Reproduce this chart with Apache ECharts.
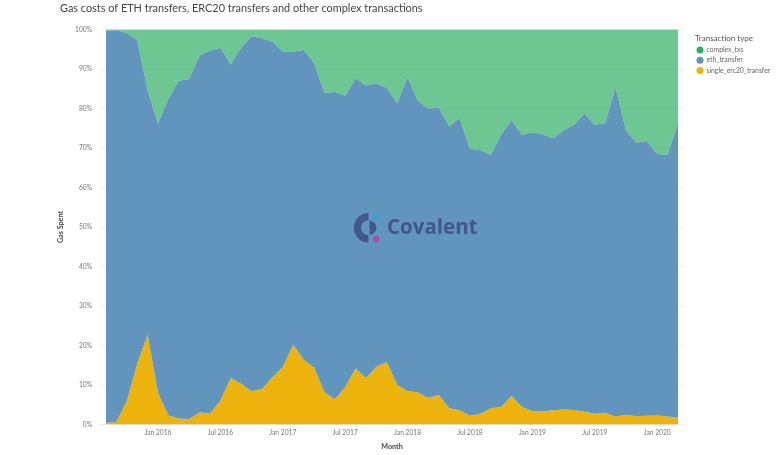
<!DOCTYPE html>
<html lang="en">
<head>
    <meta charset="UTF-8">
    <title>gas_costs_by_transaction_type</title>
    <script src="https://cdn.jsdelivr.net/npm/echarts@6/dist/echarts.min.js"></script>
    <style>
        html, body { margin: 0; padding: 0; background: #fff; }
    </style>
</head>

<body>
    <div id="mainChart" style="width: 777px; height: 455px;"></div>
    <script>
        const months = [
            'Aug 2015', 'Sep 2015', 'Oct 2015', 'Nov 2015', 'Dec 2015',
            'Jan 2016', 'Feb 2016', 'Mar 2016', 'Apr 2016', 'May 2016', 'Jun 2016',
            'Jul 2016', 'Aug 2016', 'Sep 2016', 'Oct 2016', 'Nov 2016', 'Dec 2016',
            'Jan 2017', 'Feb 2017', 'Mar 2017', 'Apr 2017', 'May 2017', 'Jun 2017',
            'Jul 2017', 'Aug 2017', 'Sep 2017', 'Oct 2017', 'Nov 2017', 'Dec 2017',
            'Jan 2018', 'Feb 2018', 'Mar 2018', 'Apr 2018', 'May 2018', 'Jun 2018',
            'Jul 2018', 'Aug 2018', 'Sep 2018', 'Oct 2018', 'Nov 2018', 'Dec 2018',
            'Jan 2019', 'Feb 2019', 'Mar 2019', 'Apr 2019', 'May 2019', 'Jun 2019',
            'Jul 2019', 'Aug 2019', 'Sep 2019', 'Oct 2019', 'Nov 2019', 'Dec 2019',
            'Jan 2020', 'Feb 2020', 'Mar 2020'
        ]
        const singleErc20 = [
            0.4, 0.7, 5.9, 15.4, 22.8, 8.0, 2.3, 1.5, 1.4, 3.1, 2.7, 6.1, 11.8, 10.3,
            8.4, 9.0, 11.9, 14.6, 20.2, 16.4, 14.4, 8.2, 6.3, 9.5, 14.2, 11.8, 14.6, 15.8,
            10.0, 8.5, 8.1, 6.7, 7.5, 4.1, 3.6, 2.2, 2.7, 4.1, 4.4, 7.3, 4.4, 3.4,
            3.3, 3.6, 3.8, 3.7, 3.2, 2.7, 3.0, 2.0, 2.5, 2.1, 2.2, 2.3, 2.0, 1.7
        ]
        const ethTransfer = [
            99.3, 99.1, 93.2, 81.9, 61.9, 68.2, 80.2, 85.5, 86.1, 90.3, 92.0, 89.3, 79.4, 85.1,
            89.9, 88.8, 85.0, 79.8, 74.2, 78.4, 77.2, 75.8, 77.9, 73.7, 73.4, 74.0, 71.7, 69.4,
            71.4, 79.4, 73.8, 73.3, 72.7, 71.5, 73.9, 67.6, 66.7, 64.1, 69.0, 69.8, 68.9, 70.6,
            70.1, 68.9, 70.7, 72.1, 75.5, 73.2, 73.3, 83.3, 71.9, 69.2, 69.6, 66.2, 66.2, 74.7
        ]
        const complexTxs = [
            0.3, 0.2, 0.9, 2.7, 15.3, 23.8, 17.5, 13.0, 12.5, 6.6, 5.3, 4.6, 8.8, 4.6,
            1.7, 2.2, 3.1, 5.6, 5.6, 5.2, 8.4, 16.0, 15.8, 16.8, 12.4, 14.2, 13.7, 14.8,
            18.6, 12.1, 18.1, 20.0, 19.8, 24.4, 22.5, 30.2, 30.6, 31.8, 26.6, 22.9, 26.7, 26.0,
            26.6, 27.5, 25.5, 24.2, 21.3, 24.1, 23.7, 14.7, 25.6, 28.7, 28.2, 31.5, 31.8, 23.6
        ]

        const font = 'Lato'

        function areaSeries(name, data, color, areaColor) {
            return {
                type: 'line',
                name: name,
                stack: 'gas',
                data: data,
                showSymbol: false,
                symbol: 'circle',
                itemStyle: { color: color },
                lineStyle: { width: 0 },
                areaStyle: { color: areaColor, opacity: 1 }
            }
        }

        let chartsData = {
            animation: false,
            textStyle: { fontFamily: font },
            title: {
                text: 'Gas costs of ETH transfers, ERC20 transfers and other complex transactions',
                left: 60,
                top: 2.5,
                padding: 0,
                textStyle: { fontSize: 10.9, fontWeight: 'normal', color: '#444', fontFamily: font }
            },
            legend: {
                orient: 'vertical',
                left: 696.5,
                top: 46.5,
                padding: 0,
                itemWidth: 7,
                itemHeight: 7,
                itemGap: 3.3,
                icon: 'circle',
                data: ['complex_txs', 'eth_transfer', 'single_erc20_transfer'],
                textStyle: { fontSize: 6.8, color: '#666', fontFamily: font, padding: [0, 0, 0, -2] }
            },
            // v6 squeezes the grid to fit the axis names unless this is off
            grid: { left: 106, right: 99, top: 29.5, bottom: 30.5, outerBoundsMode: 'none' },
            xAxis: {
                type: 'category',
                boundaryGap: false,
                data: months,
                name: 'Month',
                nameLocation: 'middle',
                nameGap: 19,
                nameTextStyle: { fontSize: 7.2, fontWeight: 'bold', color: '#444' },
                axisLine: { show: false },
                axisTick: { show: false },
                axisLabel: {
                    fontSize: 6.7,
                    color: '#777',
                    margin: 5,
                    interval: function (index, value) {
                        return value.startsWith('Jan') || value.startsWith('Jul')
                    }
                }
            },
            yAxis: [
                {
                    type: 'value',
                    min: 0,
                    max: 100,
                    interval: 10,
                    name: 'Gas Spent',
                    nameLocation: 'middle',
                    nameGap: 39,
                    nameTextStyle: { fontSize: 7.2, fontWeight: 'bold', color: '#444' },
                    axisLine: { show: false },
                    axisTick: { show: true, length: 6, lineStyle: { color: '#eeeeee' } },
                    axisLabel: { fontSize: 6.7, color: '#777', margin: 14, formatter: '{value}%' },
                    splitLine: { lineStyle: { color: '#e8e8e8' } }
                },
                {
                    type: 'value',
                    position: 'right',
                    min: 0,
                    max: 100,
                    interval: 10,
                    axisLine: { show: false },
                    axisTick: { show: true, length: 6, lineStyle: { color: '#eeeeee' } },
                    axisLabel: { show: false },
                    splitLine: { show: false }
                }
            ],
            graphic: [
                {
                    type: 'text',
                    left: 695,
                    top: 34,
                    style: { text: 'Transaction type', fontSize: 8, fill: '#555', fontFamily: font }
                },
                {
                    type: 'sector',
                    z: 100,
                    shape: { cx: 368.5, cy: 227.8, r: 14.7, r0: 7.5, startAngle: Math.PI / 2, endAngle: Math.PI * 3 / 2 },
                    style: { fill: '#41588f' }
                },
                {
                    type: 'sector',
                    z: 100,
                    shape: { cx: 369.5, cy: 227.8, r: 7, r0: 0, startAngle: -Math.PI / 2, endAngle: Math.PI / 2 },
                    style: { fill: '#41588f' }
                },
                { type: 'circle', z: 100, shape: { cx: 376.7, cy: 217, r: 3.3 }, style: { fill: '#3f9fd0' } },
                { type: 'circle', z: 100, shape: { cx: 376.3, cy: 239, r: 3.3 }, style: { fill: '#a84ba6' } },
                {
                    type: 'text',
                    z: 100,
                    left: 387,
                    top: 218,
                    style: { text: 'Covalent', fontSize: 20.5, fontWeight: 'bold', fill: '#41588f', fontFamily: 'Open Sans' }
                }
            ],
            series: [
                areaSeries('single_erc20_transfer', singleErc20, '#efb30e', '#ecb30c'),
                areaSeries('eth_transfer', ethTransfer, '#5f94bf', '#6295be'),
                areaSeries('complex_txs', complexTxs, '#30ae65', 'rgba(48, 174, 101, 0.7)')
            ]
        }

        let charts = echarts.init(document.querySelector('#mainChart'))
        charts.setOption(chartsData, true)
    </script>
</body>

</html>
